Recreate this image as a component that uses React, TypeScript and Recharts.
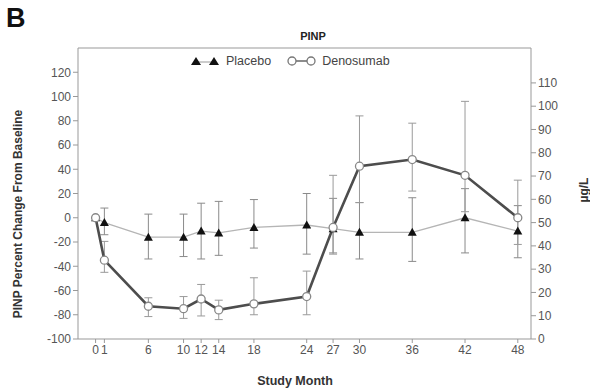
import React from 'react';
import { ComposedChart, Line, XAxis, YAxis, ErrorBar, ReferenceLine } from 'recharts';

// values (percent change from baseline)
const months = [0, 1, 6, 10, 12, 14, 18, 24, 27, 30, 36, 42, 48];
const placebo = [0, -4, -16, -16, -11, -12.5, -8, -6, -9, -12, -12, 0, -11];
const placeboHigh = [0, 8, 3, 3, 12, 13.5, 15, 20, 16, 12.5, 16.5, 24, 10];
const placeboLow = [0, -14, -34, -32, -34, -31, -25, -30, -29, -34, -36, -29, -33];
const denosumab = [0, -35, -73, -75, -67, -76, -71, -65, -8, 42.5, 48, 35, 0];
const denoHigh = [0, -19.5, -66, -65, -55, -68, -49.5, -44, 35, 84, 78, 96, 31];
const denoLow = [0, -45, -81.5, -83, -81, -84, -80, -80, -30, 12.5, 22, 5, -22];

const leftTicks = [-100, -80, -60, -40, -20, 0, 20, 40, 60, 80, 100, 120];
const rightTicks = [0, 10, 20, 30, 40, 50, 60, 70, 80, 90, 100, 110];

const data = months.map((m, i) => ({
  month: m,
  placebo: placebo[i],
  placeboErr: [placebo[i] - placeboLow[i], placeboHigh[i] - placebo[i]],
  denosumab: denosumab[i],
  denoErr: [denosumab[i] - denoLow[i], denoHigh[i] - denosumab[i]],
}));

const font = '"Liberation Sans", Arial, sans-serif';
const tickStyle = { fontSize: 12, fill: '#555', fontFamily: font };

const Triangle = (props: any) => {
  const { cx, cy, index } = props;
  if (cx == null || cy == null) return <g key={index} />;
  return <polygon key={index} points={`${cx - 4.5},${cy + 3.5} ${cx + 4.5},${cy + 3.5} ${cx},${cy - 4.5}`} fill="#111" />;
};

// legend drawn by hand: a Recharts Legend at the top would push the plot down
const LegendBox = () => (
  <div style={{ position: 'absolute', left: 190, top: 54, display: 'flex', alignItems: 'center', fontFamily: font, fontSize: 12.5, color: '#444' }}>
    <svg width={34} height={12}>
      <line x1={6} y1={7} x2={24} y2={7} stroke="#999" />
      <polygon points="1,10 11,10 6,2" fill="#111" />
      <polygon points="19,10 29,10 24,2" fill="#111" />
    </svg>
    <span style={{ marginLeft: 2 }}>Placebo</span>
    <svg width={36} height={12} style={{ marginLeft: 14 }}>
      <line x1={7} y1={6} x2={26} y2={6} stroke="#666" strokeWidth={1.5} />
      <circle cx={7} cy={6} r={4} fill="#fff" stroke="#777" strokeWidth={1.3} />
      <circle cx={26} cy={6} r={4} fill="#fff" stroke="#777" strokeWidth={1.3} />
    </svg>
    <span style={{ marginLeft: 1 }}>Denosumab</span>
  </div>
);

export default function App() {
  return (
    <div style={{ position: 'absolute', left: 0, top: 0, width: 590, height: 391, background: '#fff', fontFamily: font }}>
      <div style={{ position: 'absolute', left: 6, top: 3, fontSize: 27, fontWeight: 'bold', color: '#111' }}>B</div>
      <div style={{ position: 'absolute', left: 0, width: 626, top: 30, textAlign: 'center', fontSize: 11, fontWeight: 'bold', color: '#222' }}>PINP</div>
      <div style={{ position: 'absolute', left: 18, top: 214, transform: 'translate(-50%, -50%) rotate(-90deg)', whiteSpace: 'nowrap', fontSize: 12, fontWeight: 'bold', color: '#333' }}>
        PINP Percent Change From Baseline
      </div>
      <div style={{ position: 'absolute', left: 584, top: 190, transform: 'translate(-50%, -50%) rotate(-90deg)', whiteSpace: 'nowrap', fontSize: 12, fontWeight: 'bold', color: '#333' }}>
        µg/L
      </div>
      <div style={{ position: 'absolute', left: 0, width: 590, top: 374, textAlign: 'center', fontSize: 12.5, fontWeight: 'bold', color: '#333' }}>
        Study Month
      </div>
      <ComposedChart width={590} height={391} data={data} margin={{ top: 48, right: 19, left: 38, bottom: 22 }}>
        <XAxis
          dataKey="month"
          type="number"
          domain={[-2, 49.5]}
          ticks={months}
          interval={0}
          tick={tickStyle}
          stroke="#999"
          tickSize={4}
          height={30}
        />
        <YAxis yAxisId="left" domain={[-100, 140]} ticks={leftTicks} interval={0} tick={tickStyle} stroke="#999" width={40} tickSize={5} allowDataOverflow />
        <YAxis yAxisId="right" orientation="right" domain={[0, 125]} ticks={rightTicks} interval={0} tick={tickStyle} stroke="#999" width={40} tickSize={5} allowDataOverflow />
        <ReferenceLine yAxisId="left" y={140} stroke="#999" ifOverflow="extendDomain" />
        <Line yAxisId="right" dataKey="none" stroke="none" dot={false} activeDot={false} legendType="none" isAnimationActive={false} />
        <Line
          yAxisId="left"
          dataKey="placebo"
          stroke="#b5b5b5"
          strokeWidth={1.3}
          dot={Triangle}
          activeDot={false}
          isAnimationActive={false}
        >
          <ErrorBar dataKey="placeboErr" direction="y" stroke="#8a8a8a" strokeWidth={1} width={4} />
        </Line>
        <Line
          yAxisId="left"
          dataKey="denosumab"
          stroke="#4d4d4d"
          strokeWidth={2.6}
          dot={{ r: 4, fill: '#fff', stroke: '#888', strokeWidth: 1.3 }}
          activeDot={false}
          isAnimationActive={false}
        >
          <ErrorBar dataKey="denoErr" direction="y" stroke="#9a9a9a" strokeWidth={1} width={4} />
        </Line>
      </ComposedChart>
      <LegendBox />
    </div>
  );
}
